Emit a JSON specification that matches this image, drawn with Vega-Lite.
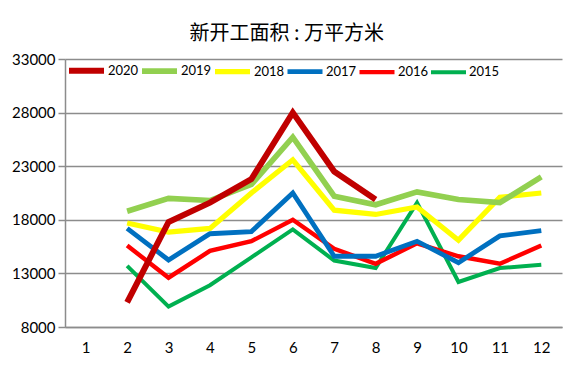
{
  "$schema": "https://vega.github.io/schema/vega-lite/v6.json",
  "width": 497,
  "height": 268,
  "autosize": {"type": "none"},
  "padding": {"left": 65, "top": 59, "right": 10, "bottom": 64},
  "background": "white",
  "title": {
    "text": "新开工面积 : 万平方米",
    "font": "Noto Sans CJK SC",
    "fontSize": 20,
    "fontWeight": "normal",
    "color": "#000000",
    "anchor": "middle",
    "frame": "bounds",
    "offset": 6
  },
  "config": {
    "view": {"stroke": null},
    "font": "Lato"
  },
  "data": {
    "values": [
      {"month": 2, "year": "2015", "value": 13700},
      {"month": 3, "year": "2015", "value": 9900},
      {"month": 4, "year": "2015", "value": 11900},
      {"month": 5, "year": "2015", "value": 14500},
      {"month": 6, "year": "2015", "value": 17100},
      {"month": 7, "year": "2015", "value": 14200},
      {"month": 8, "year": "2015", "value": 13500},
      {"month": 9, "year": "2015", "value": 19600},
      {"month": 10, "year": "2015", "value": 12200},
      {"month": 11, "year": "2015", "value": 13500},
      {"month": 12, "year": "2015", "value": 13800},
      {"month": 2, "year": "2016", "value": 15600},
      {"month": 3, "year": "2016", "value": 12600},
      {"month": 4, "year": "2016", "value": 15100},
      {"month": 5, "year": "2016", "value": 16000},
      {"month": 6, "year": "2016", "value": 18000},
      {"month": 7, "year": "2016", "value": 15300},
      {"month": 8, "year": "2016", "value": 13900},
      {"month": 9, "year": "2016", "value": 15800},
      {"month": 10, "year": "2016", "value": 14600},
      {"month": 11, "year": "2016", "value": 13900},
      {"month": 12, "year": "2016", "value": 15600},
      {"month": 2, "year": "2017", "value": 17200},
      {"month": 3, "year": "2017", "value": 14250},
      {"month": 4, "year": "2017", "value": 16700},
      {"month": 5, "year": "2017", "value": 16900},
      {"month": 6, "year": "2017", "value": 20500},
      {"month": 7, "year": "2017", "value": 14600},
      {"month": 8, "year": "2017", "value": 14600},
      {"month": 9, "year": "2017", "value": 16000},
      {"month": 10, "year": "2017", "value": 14000},
      {"month": 11, "year": "2017", "value": 16500},
      {"month": 12, "year": "2017", "value": 17000},
      {"month": 2, "year": "2018", "value": 17700},
      {"month": 3, "year": "2018", "value": 16850},
      {"month": 4, "year": "2018", "value": 17200},
      {"month": 5, "year": "2018", "value": 20500},
      {"month": 6, "year": "2018", "value": 23600},
      {"month": 7, "year": "2018", "value": 18900},
      {"month": 8, "year": "2018", "value": 18500},
      {"month": 9, "year": "2018", "value": 19200},
      {"month": 10, "year": "2018", "value": 16100},
      {"month": 11, "year": "2018", "value": 20100},
      {"month": 12, "year": "2018", "value": 20500},
      {"month": 2, "year": "2019", "value": 18800},
      {"month": 3, "year": "2019", "value": 20000},
      {"month": 4, "year": "2019", "value": 19800},
      {"month": 5, "year": "2019", "value": 21300},
      {"month": 6, "year": "2019", "value": 25700},
      {"month": 7, "year": "2019", "value": 20200},
      {"month": 8, "year": "2019", "value": 19400},
      {"month": 9, "year": "2019", "value": 20600},
      {"month": 10, "year": "2019", "value": 19900},
      {"month": 11, "year": "2019", "value": 19600},
      {"month": 12, "year": "2019", "value": 22000},
      {"month": 2, "year": "2020", "value": 10300},
      {"month": 3, "year": "2020", "value": 17800},
      {"month": 4, "year": "2020", "value": 19600},
      {"month": 5, "year": "2020", "value": 21800},
      {"month": 6, "year": "2020", "value": 28000},
      {"month": 7, "year": "2020", "value": 22500},
      {"month": 8, "year": "2020", "value": 19900}
    ]
  },
  "mark": {"type": "line", "strokeJoin": "miter", "strokeCap": "butt"},
  "encoding": {
    "x": {
      "field": "month",
      "type": "ordinal",
      "scale": {"type": "point", "domain": [1,2,3,4,5,6,7,8,9,10,11,12], "padding": 0.5},
      "axis": {
        "title": null,
        "labelAngle": 0,
        "labelFont": "Lato",
        "labelFontSize": 15,
        "labelColor": "#000000",
        "labelPadding": 13,
        "ticks": false,
        "domainColor": "#8c8c8c",
        "domainWidth": 1.5,
        "grid": false
      }
    },
    "y": {
      "field": "value",
      "type": "quantitative",
      "scale": {"domain": [8000, 33000], "nice": false, "zero": false},
      "axis": {
        "title": null,
        "values": [8000, 13000, 18000, 23000, 28000, 33000],
        "format": "d",
        "labelFont": "Lato",
        "labelFontSize": 15,
        "labelColor": "#000000",
        "labelPadding": 3,
        "tickSize": 7,
        "tickColor": "#8c8c8c",
        "tickWidth": 1.5,
        "domainColor": "#8c8c8c",
        "domainWidth": 1.5,
        "grid": true,
        "gridColor": "#8c8c8c",
        "gridWidth": 1.5
      }
    },
    "color": {
      "field": "year",
      "type": "nominal",
      "scale": {
        "domain": ["2020", "2019", "2018", "2017", "2016", "2015"],
        "range": ["#C00000", "#92D050", "#FFFF00", "#0070C0", "#FF0000", "#00B050"]
      },
      "legend": {
        "title": null,
        "orient": "none",
        "legendX": 1,
        "legendY": -9,
        "direction": "horizontal",
        "symbolType": "stroke",
        "symbolSize": 1225,
        "labelFont": "Lato",
        "labelFontSize": 13,
        "labelColor": "#000000",
        "labelOffset": 1,
        "columnPadding": -16
      }
    },
    "strokeWidth": {
      "field": "year",
      "type": "nominal",
      "scale": {
        "domain": ["2020", "2019", "2018", "2017", "2016", "2015"],
        "range": [6, 4, 4, 4, 2.5, 2.5]
      },
      "legend": {
        "title": null,
        "orient": "none",
        "legendX": 1,
        "legendY": -9,
        "direction": "horizontal",
        "symbolType": "stroke",
        "symbolSize": 1225,
        "labelFont": "Lato",
        "labelFontSize": 13,
        "labelColor": "#000000",
        "labelOffset": 1,
        "columnPadding": -16
      }
    }
  }
}
